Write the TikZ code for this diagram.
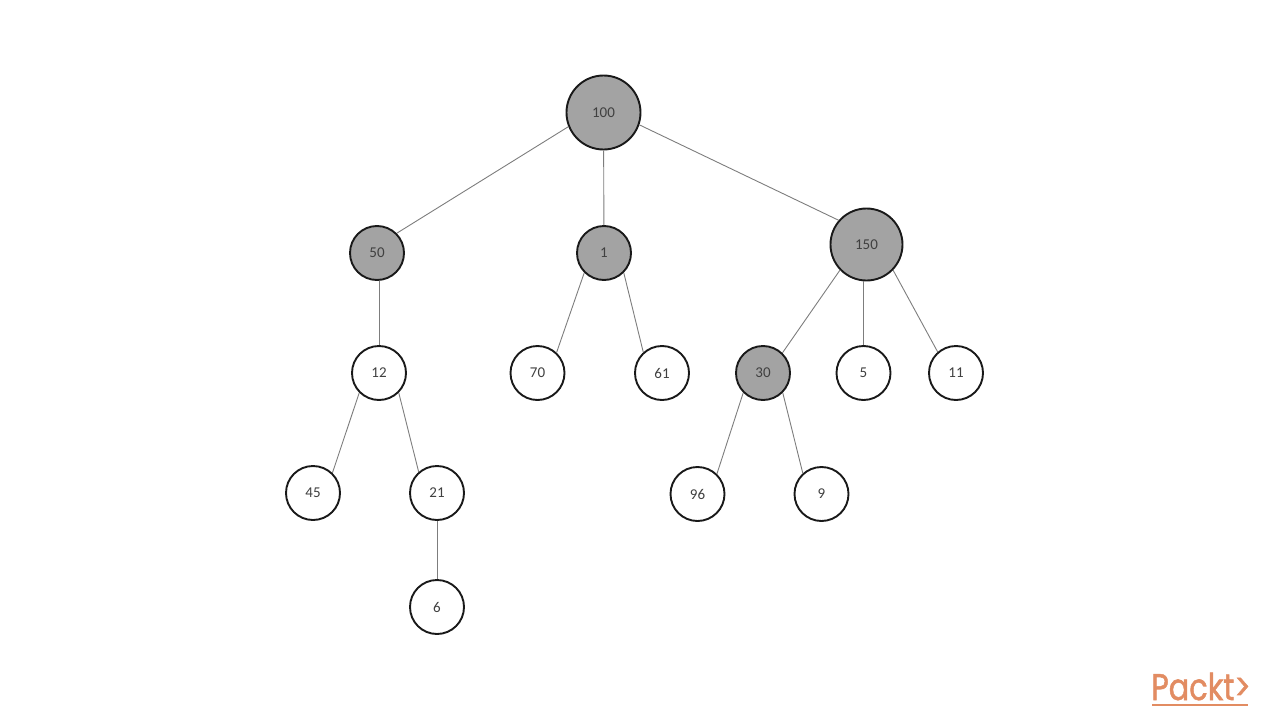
\documentclass[tikz,border=0pt]{standalone}
\usepackage{fontspec}
\setmainfont{Carlito}
\newfontfamily\logofont[FakeBold=1.5]{Poppins}
\definecolor{fillgray}{RGB}{163,163,163}
\definecolor{txt}{RGB}{64,64,64}
\definecolor{edgecol}{RGB}{125,125,125}
\definecolor{logocol}{RGB}{226,140,98}
\tikzset{
  treenode/.style={circle,draw=black!90,line width=1.9pt,inner sep=0pt,text=txt,font=\fontsize{15}{17}\selectfont},
  small/.style={treenode,minimum size=54pt},
  plain/.style={small,fill=white},
  shaded/.style={small,fill=fillgray},
  big/.style={treenode,fill=fillgray,minimum size=74pt},
  link/.style={draw=edgecol,line width=0.9pt},
  logotext/.style={text=logocol,inner sep=0pt,anchor=base west,font=\logofont\fontsize{37}{40}\selectfont}
}
\begin{document}
\begin{tikzpicture}[x=1pt,y=-1pt]
\useasboundingbox (0,0) rectangle (1280,720);
\node[big] (n100) at (603.5,112.5) {100};
\node[shaded] (n50) at (377,253) {50};
\node[shaded] (n1) at (604,253) {1};
\node[big,minimum size=72pt] (n150) at (866.5,244.5) {150};
\node[plain] (n12) at (379,373) {12};
\node[plain] (n70) at (537.5,373) {70};
\node[plain] (n61) at (662,373) {61};
\node[shaded] (n30) at (763,373) {30};
\node[plain] (n5) at (863.5,373) {5};
\node[plain] (n11) at (956,373) {11};
\node[plain] (n45) at (313,493) {45};
\node[plain] (n21) at (437,493) {21};
\node[plain] (n96) at (697.5,494) {96};
\node[plain] (n9) at (821.5,494) {9};
\node[plain] (n6) at (437,607) {6};
\draw[link] (n100.202) -- (n50.45);
\draw[link] (n100) -- (n1);
\draw[link] (n100.341) -- (n150.139);
\draw[link] (n50.south -| n12.north) -- (n12.north);
\draw[link] (n1.225) -- (n70.47);
\draw[link] (n1.315) -- (n61.132);
\draw[link] (n150.224) -- (n30.46);
\draw[link] (n150.south -| n5.north) -- (n5.north);
\draw[link] (n150.316) -- (n11.131);
\draw[link] (n12.225) -- (n45.46);
\draw[link] (n12.315) -- (n21.131);
\draw[link] (n30.225) -- (n96.46);
\draw[link] (n30.315) -- (n9.132);
\draw[link] (n21) -- (n6);
\node[logotext] (logo) at (1151,700) {\scalebox{0.82}[1]{Packt>}};
\draw[logocol,line width=2.5pt] (1152,705) -- (1248,705);
\end{tikzpicture}
\end{document}
